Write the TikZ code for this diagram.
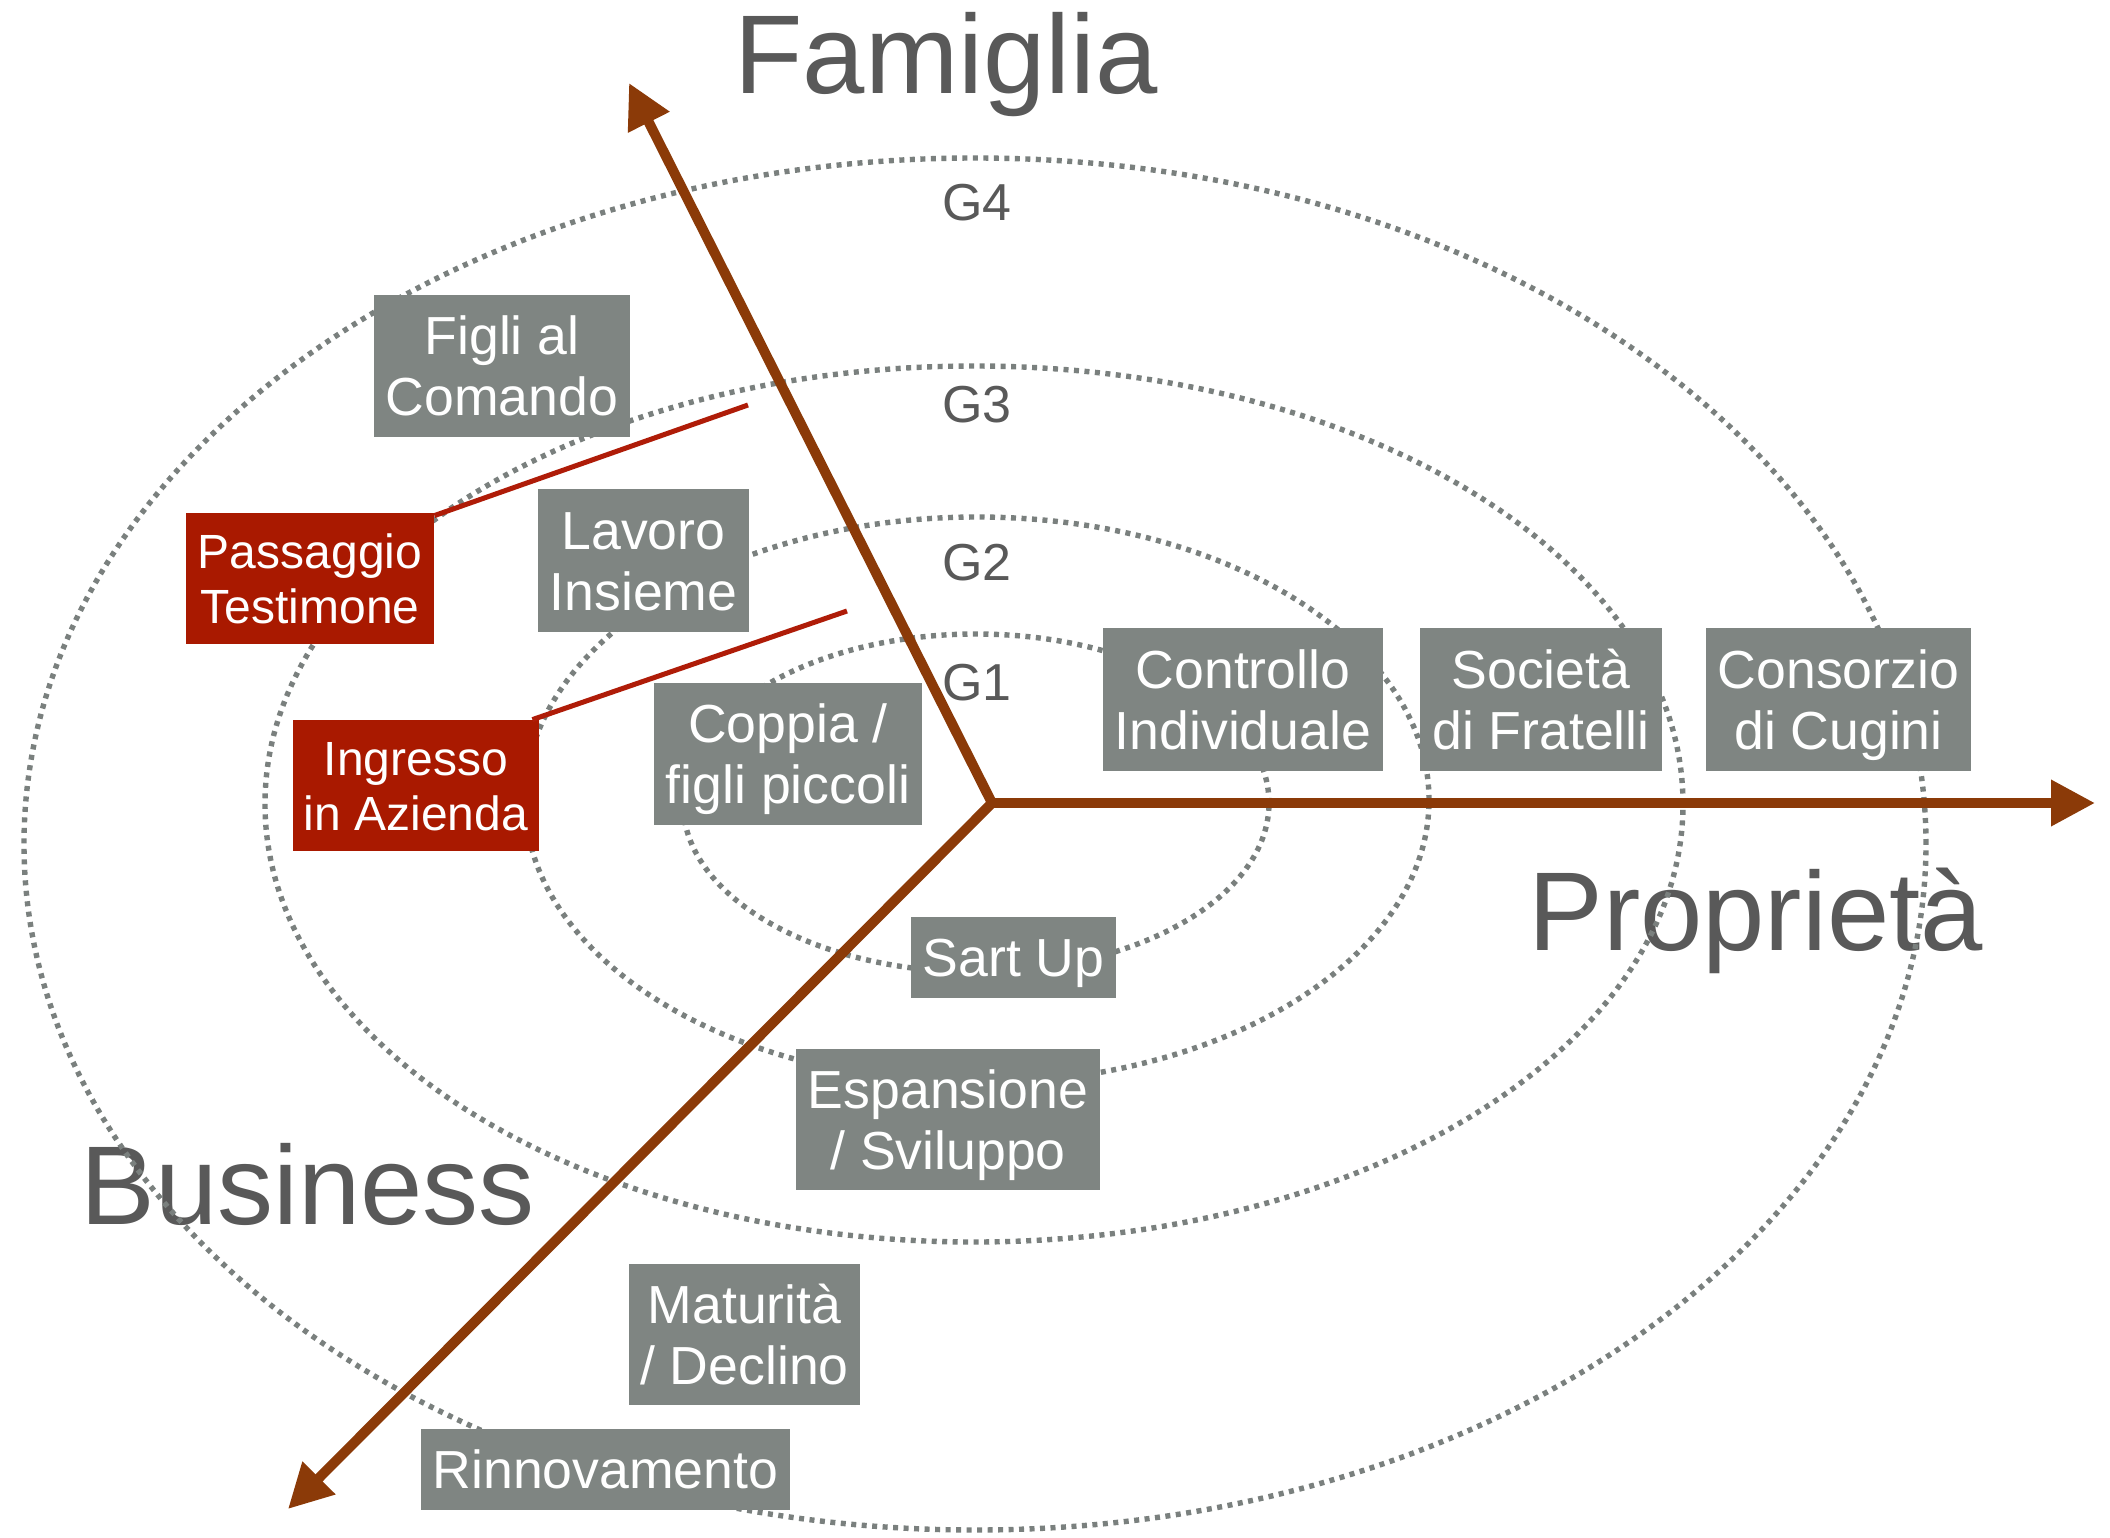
\documentclass[tikz,border=0pt]{standalone}
\usepackage{fontspec}
\setmainfont{Liberation Sans}
\usetikzlibrary{arrows.meta}
\definecolor{boxgray}{RGB}{127,133,130}
\definecolor{dotgray}{RGB}{122,128,126}
\definecolor{boxred}{RGB}{169,25,0}
\definecolor{linered}{RGB}{175,28,8}
\definecolor{axisbrown}{RGB}{139,58,8}
\definecolor{labelgray}{RGB}{89,89,89}
\newcommand\gl[1]{\rule[-2.8pt]{0pt}{24.8pt}\smash{#1}}
\newcommand\rl[1]{\rule[-2.8pt]{0pt}{22.8pt}\smash{#1}}
\begin{document}
\begin{tikzpicture}[x=0.5pt,y=-0.5pt,
 ring/.style={draw=dotgray, line width=2.7pt, dash pattern=on 2.5pt off 2.75pt},
 axis/.style={draw=axisbrown, line width=5pt, line cap=round, -{Triangle[length=22pt,width=22pt]}},
 stage/.style={fill=boxgray, text=white, inner sep=0pt, align=center, font=\fontsize{26.8}{30.5}\selectfont},
 redstage/.style={stage, fill=boxred, font=\fontsize{24}{27.5}\selectfont},
 gen/.style={text=labelgray, inner sep=0pt, anchor=base west, font=\fontsize{26}{31}\selectfont},
 dimlabel/.style={text=labelgray, inner sep=0pt, anchor=base west, font=\fontsize{56}{60}\selectfont},
 link/.style={draw=linered, line width=2.5pt}]
\fill[white] (0,0) rectangle (2110,1537);
\useasboundingbox (0,0) rectangle (2110,1537);

% big labels
\node[dimlabel] (famiglia) at (734,93) {Famiglia};
\node[dimlabel] (business) at (80,1224) {Business};
\node[dimlabel] (proprieta) at (1528,950) {Proprietà};

% generation rings
\draw[ring] (976,803) ellipse (146.5pt and 84.5pt);
\draw[ring] (977,800) ellipse (226pt and 141.5pt);
\draw[ring] (974,804) ellipse (354.5pt and 219pt);
\draw[ring] (975,844) ellipse (475.5pt and 343pt);

% generation labels
\node[gen] (g4) at (942,220) {G4};
\node[gen] (g3) at (942,422) {G3};
\node[gen] (g2) at (942,580) {G2};
\node[gen] (g1) at (942,700) {G1};

% axes
\coordinate (o) at (992,803);
\coordinate (ftip) at (629,83);
\coordinate (ptip) at (2095,803);
\coordinate (btip) at (288,1509);
\draw[axis] (o) -- (ftip);
\draw[axis] (o) -- (ptip);
\draw[axis] (o) -- (btip);

% stage boxes
\node[stage, minimum width=128pt, minimum height=71pt] (figli) at (502,366) {\gl{Figli al}\\\gl{Comando}};
\node[redstage, minimum width=124pt, minimum height=65.5pt] (passaggio) at (310,578.5) {\rl{Passaggio}\\\rl{Testimone}};
\node[stage, minimum width=105.5pt, minimum height=71.5pt] (lavoro) at (643.5,560.5) {\gl{Lavoro}\\\gl{Insieme}};
\node[redstage, minimum width=123pt, minimum height=65.5pt] (ingresso) at (416,785.5) {\rl{Ingresso}\\\rl{in Azienda}};
\node[stage, minimum width=134pt, minimum height=71pt] (coppia) at (788,754) {\gl{Coppia /}\\\gl{figli piccoli}};
\node[stage, minimum width=140pt, minimum height=71.5pt] (controllo) at (1243,699.5) {\gl{Controllo}\\\gl{Individuale}};
\node[stage, minimum width=121pt, minimum height=71.5pt] (societa) at (1541,699.5) {\gl{Società}\\\gl{di Fratelli}};
\node[stage, minimum width=132.5pt, minimum height=71.5pt] (consorzio) at (1838.5,699.5) {\gl{Consorzio}\\\gl{di Cugini}};
\node[stage, minimum width=102.5pt, minimum height=40.5pt] (sartup) at (1013.5,957.5) {\gl{Sart Up}};
\node[stage, minimum width=152pt, minimum height=70.5pt] (espansione) at (948,1119.5) {\gl{Espansione}\\\gl{/ Sviluppo}};
\node[stage, minimum width=115.5pt, minimum height=70.5pt] (maturita) at (744.5,1334.5) {\gl{Maturità}\\\gl{/ Declino}};
\node[stage, minimum width=184.5pt, minimum height=40.5pt] (rinnovamento) at (605.5,1469.5) {\gl{Rinnovamento}};

% red links
\coordinate (r1) at (748,405);
\coordinate (r2) at (847,611);
\draw[link] ([yshift=-1.5pt]passaggio.north east) -- (r1);
\draw[link] ([xshift=-3.5pt]ingresso.north east) -- (r2);
\end{tikzpicture}
\end{document}
